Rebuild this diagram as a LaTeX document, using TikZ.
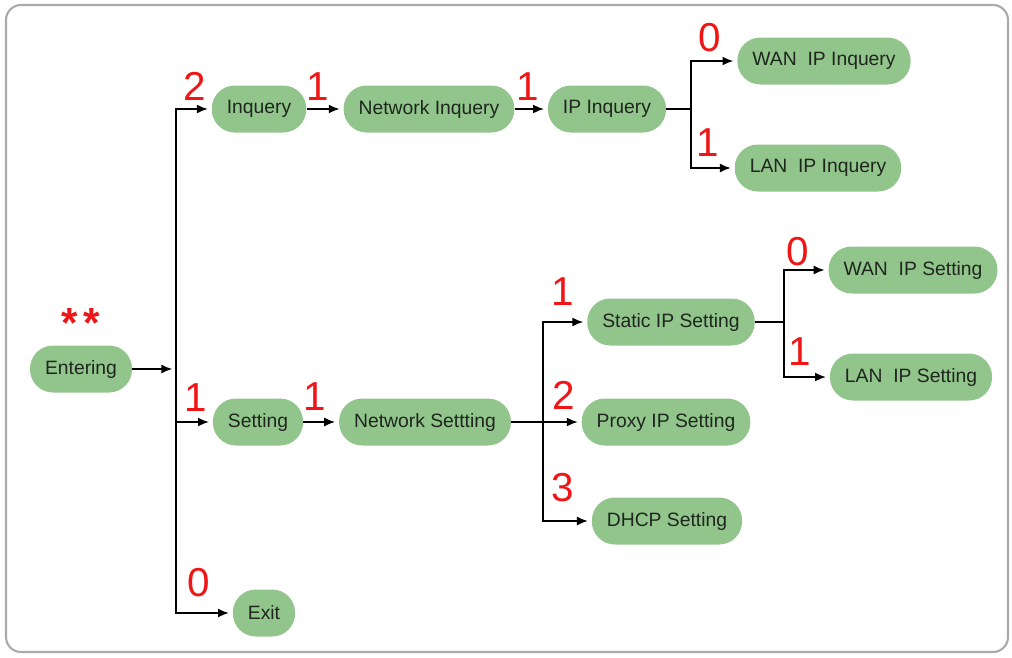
\documentclass[tikz,border=0pt]{standalone}
\usepackage{fontspec}
\setmainfont{Liberation Sans}
\usetikzlibrary{arrows.meta}
\definecolor{menugreen}{RGB}{146,197,140}
\definecolor{menutext}{RGB}{30,38,30}
\definecolor{keyred}{RGB}{238,22,22}
\definecolor{framegray}{RGB}{170,170,170}
\tikzset{
    menu/.style={rectangle, rounded corners=0.46cm, fill=menugreen, text=menutext,
        minimum height=0.94cm, inner xsep=0.3cm, font=\fontsize{11}{13}\selectfont},
    key/.style={text=keyred, inner sep=0pt, font=\fontsize{23}{25}\selectfont},
    wire/.style={line width=1.1pt, line join=miter},
    link/.style={wire, -{Latex[length=0.22cm,width=0.18cm]}, shorten >=2pt}
}
\begin{document}
\begin{tikzpicture}[x=0.02cm,y=-0.02cm]
    \useasboundingbox (0,0) rectangle (1012,657);
    \draw[line width=1.2pt, draw=framegray, rounded corners=0.3cm] (6,5) rectangle (1008,652);

    % menu entries
    \node[menu] (entering) at (81,369) {Entering};
    \node[menu] (inquery) at (259,109) {Inquery};
    \node[menu] (netinq) at (429,109) {Network Inquery};
    \node[menu] (ipinq) at (607,109) {IP Inquery};
    \node[menu] (waninq) at (824,61) {WAN\ \ IP Inquery};
    \node[menu] (laninq) at (818,168) {LAN\ \ IP Inquery};
    \node[menu] (setting) at (258,422) {Setting};
    \node[menu] (netset) at (425,422) {Network Settting};
    \node[menu] (staticip) at (671,322) {Static IP Setting};
    \node[menu] (proxyip) at (666,422) {Proxy IP Setting};
    \node[menu] (dhcp) at (667,521) {DHCP Setting};
    \node[menu] (wanset) at (913,270) {WAN\ \ IP Setting};
    \node[menu] (lanset) at (911,377) {LAN\ \ IP Setting};
    \node[menu] (exit) at (264,613) {Exit};

    % key numbers
    \node[key, font=\fontsize{24}{26}\selectfont\bfseries] (kenter) at (81,323) {*\kern3pt*};
    \node[key] (kinq) at (195,86) {2};
    \node[key] (knetinq) at (318,87) {1};
    \node[key] (kipinq) at (528,87) {1};
    \node[key] (kwaninq) at (710,38) {0};
    \node[key] (klaninq) at (708,143) {1};
    \node[key] (kset) at (196,398) {1};
    \node[key] (knetset) at (315,397) {1};
    \node[key] (kexit) at (199,583) {0};
    \node[key] (kstatic) at (563,292) {1};
    \node[key] (kproxy) at (564,395) {2};
    \node[key] (kdhcp) at (563,488) {3};
    \node[key] (kwanset) at (798,252) {0};
    \node[key] (klanset) at (800,352) {1};

    % junctions
    \coordinate (mainbus) at (176,369);
    \coordinate (ipbus) at (691,109);
    \coordinate (setbus) at (543,422);
    \coordinate (staticbus) at (784,322);

    % arrows
    \draw[link] (entering) -- (mainbus);
    \draw[link] (mainbus) |- (inquery);
    \draw[link] (mainbus) |- (setting);
    \draw[link] (mainbus) |- (exit);

    \draw[link] (inquery) -- (netinq);
    \draw[link] (netinq) -- (ipinq);
    \draw[wire] (ipinq) -- (ipbus);
    \draw[link] (ipbus) |- (waninq);
    \draw[link] (ipbus) |- (laninq);

    \draw[link] (setting) -- (netset);
    \draw[wire] (netset) -- (setbus);
    \draw[link] (setbus) |- (staticip);
    \draw[link] (setbus) -- (proxyip);
    \draw[link] (setbus) |- (dhcp);

    \draw[wire] (staticip) -- (staticbus);
    \draw[link] (staticbus) |- (wanset);
    \draw[link] (staticbus) |- (lanset);
\end{tikzpicture}
\end{document}
